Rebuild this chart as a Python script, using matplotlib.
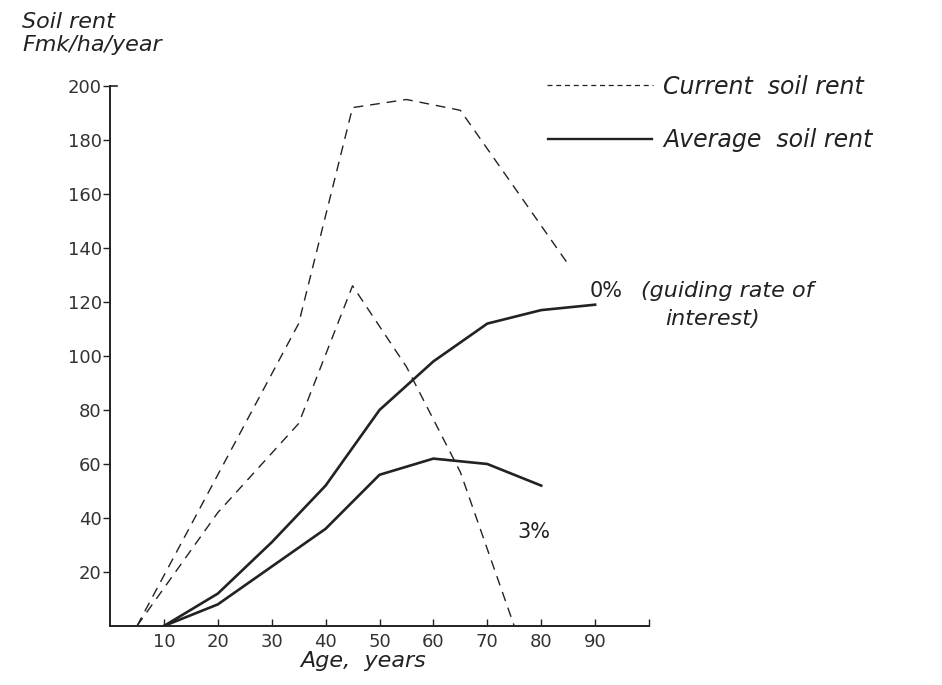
import numpy as np
import matplotlib
matplotlib.use("Agg")
from matplotlib import pyplot as plt

# current soil rent (dashed)
cur0_age = [5, 35, 45, 55, 65, 85]
cur0_val = [0, 112, 192, 195, 191, 134]
cur3_age = [5, 20, 35, 45, 55, 65, 75]
cur3_val = [0, 42, 75, 126, 96, 57, 0]

# average soil rent (solid)
avg0_age = [10, 20, 30, 40, 50, 60, 70, 80, 90]
avg0_val = [0, 12, 31, 52, 80, 98, 112, 117, 119]
avg3_age = [10, 20, 30, 40, 50, 60, 70, 80]
avg3_val = [0, 8, 22, 36, 56, 62, 60, 52]

x_ticks = [10, 20, 30, 40, 50, 60, 70, 80, 90, 100]
x_labels = ["10", "20", "30", "40", "50", "60", "70", "80", "90", ""]
y_ticks = [20, 40, 60, 80, 100, 120, 140, 160, 180, 200]

ink = "#222222"
plt.rcParams["font.family"] = ["DejaVu Sans"]

fig = plt.figure(figsize=(9.42, 6.85), dpi=100)
ax = fig.add_axes([110 / 942, 1 - 626 / 685, 539 / 942, 540 / 685])

dash = (0, (7, 5))
ax.plot(cur0_age, cur0_val, color=ink, lw=1.0, linestyle=dash)
ax.plot(cur3_age, cur3_val, color=ink, lw=1.0, linestyle=dash)
ax.plot(avg0_age, avg0_val, color=ink, lw=1.9)
ax.plot(avg3_age, avg3_val, color=ink, lw=1.9)

ax.set_xlim(0, 100)
ax.set_ylim(0, 200)
for s in ["top", "right"]:
    ax.spines[s].set_visible(False)
for s in ["left", "bottom"]:
    ax.spines[s].set_color(ink)
    ax.spines[s].set_linewidth(1.4)

ax.set_xticks(x_ticks)
ax.set_xticklabels(x_labels)
ax.set_yticks(y_ticks)
ax.tick_params(axis="x", direction="in", length=5, width=1, color=ink,
               labelsize=13, labelcolor="#333333", pad=5)
ax.tick_params(axis="y", direction="out", length=5, width=1, color=ink,
               labelsize=13, labelcolor="#333333", pad=1)
# little cap at the top of the y axis
ax.plot([0, 1.3], [200, 200], color=ink, lw=1.2, clip_on=False)

# axis titles
fig.text(22 / 942, 1 - 22 / 685, "Soil rent", fontsize=16, style="italic",
         color=ink, va="center", ha="left")
fig.text(22 / 942, 1 - 45 / 685, "Fmk/ha/year", fontsize=16, style="italic",
         color=ink, va="center", ha="left")
fig.text(363 / 942, 1 - 661 / 685, "Age,  years", fontsize=16, style="italic",
         color=ink, va="center", ha="center")

# key
fig.add_artist(plt.Line2D([547 / 942, 653 / 942], [1 - 85 / 685, 1 - 85 / 685],
                          color=ink, lw=0.9, linestyle=(0, (4, 3))))
fig.add_artist(plt.Line2D([548 / 942, 652 / 942], [1 - 139 / 685, 1 - 139 / 685],
                          color=ink, lw=1.7))
fig.text(663 / 942, 1 - 87 / 685, "Current  soil rent", fontsize=17,
         style="italic", color=ink, va="center", ha="left")
fig.text(663 / 942, 1 - 140 / 685, "Average  soil rent", fontsize=17,
         style="italic", color=ink, va="center", ha="left")

# curve labels
fig.text(590 / 942, 1 - 291 / 685, "0%", fontsize=15, color=ink,
         va="center", ha="left")
fig.text(641 / 942, 1 - 291 / 685, "(guiding rate of", fontsize=16,
         style="italic", color=ink, va="center", ha="left")
fig.text(665 / 942, 1 - 319 / 685, "interest)", fontsize=16,
         style="italic", color=ink, va="center", ha="left")
fig.text(517 / 942, 1 - 532 / 685, "3%", fontsize=15, color=ink,
         va="center", ha="left")

fig.savefig("out.png", dpi=100, facecolor="white")
